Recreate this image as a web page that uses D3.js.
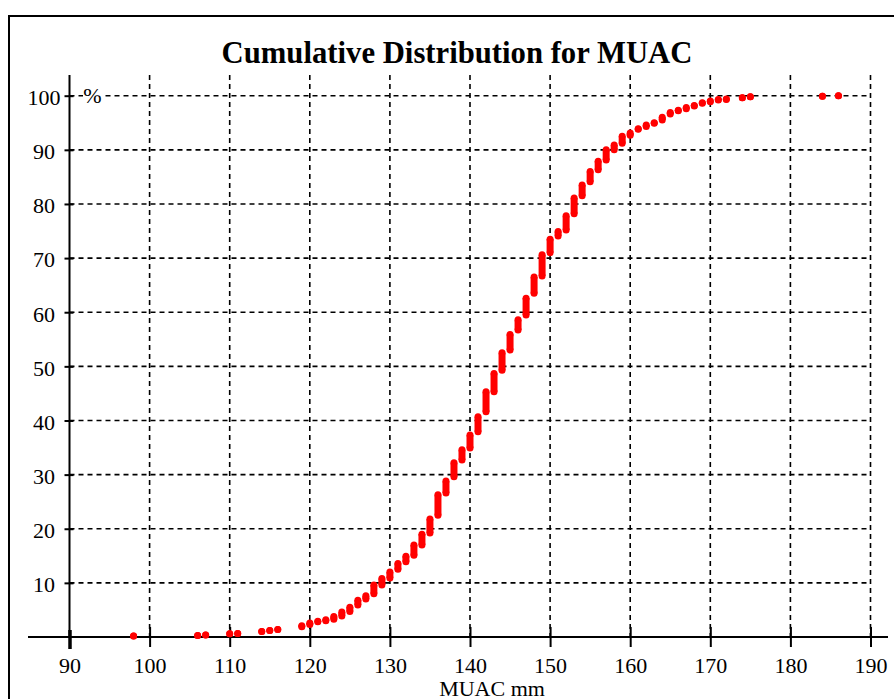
<!DOCTYPE html>
<meta charset="utf-8">
<style>
  body { margin: 0; background: #fff; }
  text { font-family: "Liberation Serif", "Times New Roman", serif; fill: #000; }
</style>
<svg width="894" height="699"></svg>
<script src="https://cdn.jsdelivr.net/npm/d3@7"></script>
<script>
  // MUAC values (mm) and the cumulative % span reached at each value
  var muac = [98, 106, 107, 110, 111, 114, 115, 116,
    119, 120, 121, 122, 123, 124, 125, 126, 127, 128, 129, 130,
    131, 132, 133, 134, 135, 136, 137, 138, 139, 140,
    141, 142, 143, 144, 145, 146, 147, 148, 149, 150,
    151, 152, 153, 154, 155, 156, 157, 158, 159, 160,
    161, 162, 163, 164, 165, 166, 167, 168, 169, 170,
    171, 172, 174, 175, 184, 186];
  var pctLow = [0.2, 0.3, 0.35, 0.6, 0.65, 1.0, 1.2, 1.4,
    1.9, 2.3, 2.8, 3.0, 3.3, 3.9, 4.7, 5.9, 7.0, 8.0, 9.6, 10.9,
    12.5, 13.9, 15.1, 17.0, 19.2, 22.5, 26.6, 29.6, 32.7, 34.9,
    37.9, 41.6, 45.3, 49.3, 53.0, 56.7, 59.5, 63.5, 66.7, 71.0,
    74.1, 75.2, 78.2, 81.5, 84.1, 86.3, 88.1, 90.0, 91.2, 92.7,
    93.8, 94.3, 94.9, 95.5, 96.6, 97.2, 97.6, 98.1, 98.6, 98.9,
    99.2, 99.3, 99.6, 99.8, 99.9, 100];
  var pctHigh = [0.2, 0.3, 0.35, 0.6, 0.65, 1.0, 1.2, 1.4,
    2.1, 2.6, 2.9, 3.2, 3.8, 4.6, 5.5, 6.8, 7.6, 9.6, 10.8, 12.0,
    13.6, 14.9, 17.0, 19.0, 21.8, 26.3, 28.8, 32.2, 34.6, 37.3,
    40.7, 45.3, 48.7, 52.5, 55.9, 58.6, 62.6, 66.5, 70.6, 73.5,
    74.9, 77.8, 81.1, 83.5, 86.0, 87.9, 90.0, 90.9, 92.5, 93.1,
    93.9, 94.6, 95.0, 96.0, 96.9, 97.3, 97.8, 98.2, 98.7, 99.0,
    99.3, 99.4, 99.6, 99.8, 99.9, 100];

  var xTicks = [90, 100, 110, 120, 130, 140, 150, 160, 170, 180, 190];
  var yTicks = [10, 20, 30, 40, 50, 60, 70, 80, 90, 100];

  var svg = d3.select("svg");

  // frame
  svg.append("rect")
    .attr("x", 9).attr("y", 16)
    .attr("width", 900).attr("height", 700)
    .attr("fill", "#fff")
    .attr("stroke", "#000")
    .attr("stroke-width", 2);

  var x = d3.scaleLinear().domain([90, 190]).range([69.5, 870.5]);
  var y = d3.scaleLinear().domain([0, 100]).range([637, 95.7]);

  // dashed grid
  svg.append("g").selectAll("line")
    .data(xTicks.slice(1))
    .enter().append("line")
    .attr("x1", function(d){ return x(d); })
    .attr("x2", function(d){ return x(d); })
    .attr("y1", 75).attr("y2", y(0))
    .attr("stroke", "#000").attr("stroke-width", 1.6)
    .attr("stroke-dasharray", "5,4");

  svg.append("g").selectAll("line")
    .data(yTicks)
    .enter().append("line")
    .attr("x1", x(90)).attr("x2", x(190))
    .attr("y1", function(d){ return y(d); })
    .attr("y2", function(d){ return y(d); })
    .attr("stroke", "#000").attr("stroke-width", 1.6)
    .attr("stroke-dasharray", "5,4");

  // x axis
  var xAxis = svg.append("g")
    .attr("transform", "translate(0," + y(0) + ")")
    .call(d3.axisBottom(x).tickValues(xTicks).tickSize(10).tickPadding(10));
  xAxis.select(".domain").remove();
  xAxis.selectAll(".tick line")
    .attr("y1", -10)
    .attr("stroke", "#000").attr("stroke-width", 2);
  xAxis.selectAll(".tick text")
    .style("font-family", "Liberation Serif").style("font-size", "22px")
    .attr("fill", "#000");
  xAxis.append("line")
    .attr("x1", 28).attr("x2", 888)
    .attr("stroke", "#000").attr("stroke-width", 2);
  xAxis.select(".tick line").attr("stroke-width", 3.5).attr("y1", -7).attr("y2", 12);

  // y axis
  var yAxis = svg.append("g")
    .attr("transform", "translate(" + x(90) + ",0)")
    .call(d3.axisLeft(y).tickValues(yTicks).tickSize(5).tickPadding(0));
  yAxis.select(".domain").remove();
  yAxis.selectAll(".tick line")
    .attr("x1", 4)
    .attr("stroke", "#000").attr("stroke-width", 2);
  yAxis.selectAll(".tick text")
    .attr("x", 44 - x(90))
    .attr("dy", "0.4em")
    .attr("text-anchor", "middle")
    .style("font-family", "Liberation Serif").style("font-size", "22px")
    .attr("fill", "#000");
  yAxis.append("line")
    .attr("y1", 75).attr("y2", y(0))
    .attr("stroke", "#000").attr("stroke-width", 2);

  // % unit label over the top grid line
  svg.append("rect")
    .attr("x", 83).attr("y", 86).attr("width", 20).attr("height", 18)
    .attr("fill", "#fff");
  svg.append("text")
    .attr("x", 92.5).attr("y", y(100)).attr("dy", "0.35em")
    .attr("text-anchor", "middle")
    .style("font-size", "22px")
    .text("%");

  // cumulative points: one vertical run per MUAC value
  var pts = muac.map(function(m, i){ return {m: m, lo: pctLow[i], hi: pctHigh[i]}; });
  var marks = svg.append("g").attr("fill", "#ff0000");
  marks.selectAll("line")
    .data(pts)
    .enter().append("line")
    .attr("x1", function(d){ return x(d.m); })
    .attr("x2", function(d){ return x(d.m); })
    .attr("y1", function(d){ return y(d.lo); })
    .attr("y2", function(d){ return y(d.hi); })
    .attr("stroke", "#ff0000").attr("stroke-width", 7);
  marks.selectAll("circle.lo")
    .data(pts)
    .enter().append("circle").attr("class", "lo")
    .attr("cx", function(d){ return x(d.m); })
    .attr("cy", function(d){ return y(d.lo); })
    .attr("r", 3.5);
  marks.selectAll("circle.hi")
    .data(pts)
    .enter().append("circle").attr("class", "hi")
    .attr("cx", function(d){ return x(d.m); })
    .attr("cy", function(d){ return y(d.hi); })
    .attr("r", 3.5);

  // titles
  svg.append("text")
    .attr("x", 457).attr("y", 63)
    .attr("text-anchor", "middle")
    .style("font-size", "30.7px").style("font-weight", "bold")
    .text("Cumulative Distribution for MUAC");

  svg.append("text")
    .attr("x", 492).attr("y", 696)
    .attr("text-anchor", "middle")
    .style("font-size", "22px")
    .text("MUAC mm");
</script>
